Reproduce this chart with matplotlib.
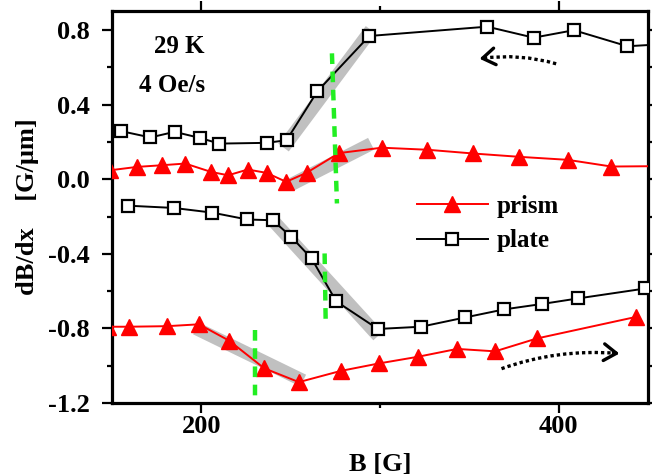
import matplotlib
matplotlib.use('Agg')
import matplotlib.pyplot as plt
import numpy as np
from matplotlib.ticker import MultipleLocator, FormatStrFormatter
from matplotlib.patches import FancyArrowPatch

plt.rcParams['font.family'] = ['Liberation Serif', 'DejaVu Serif']
plt.rcParams['font.weight'] = 'bold'
plt.rcParams['axes.unicode_minus'] = False

# decreasing field sweep (upper pair)
plate_up_B = [155, 171.5, 185, 199, 210, 236.5, 247.7, 265, 294, 360, 386, 408.5, 438.5, 460]
plate_up_v = [0.258, 0.224, 0.254, 0.222, 0.191, 0.195, 0.209, 0.472, 0.768, 0.818, 0.759, 0.799, 0.713, 0.725]
prism_up_B = [149, 164, 178, 191, 205.5, 215, 226, 236.5, 247.5, 259, 277, 301, 326.5, 352, 378, 405, 429.5, 455]
prism_up_v = [0.048, 0.066, 0.075, 0.084, 0.039, 0.021, 0.052, 0.034, -0.014, 0.035, 0.14, 0.169,
              0.158, 0.138, 0.12, 0.104, 0.068, 0.07]

# increasing field sweep (lower pair)
plate_dn_B = [159.2, 184.5, 206, 225.7, 240, 250.3, 261.7, 275.5, 298.8, 323, 347.8, 369.5, 390.7, 411, 448.5]
plate_dn_v = [-0.142, -0.154, -0.179, -0.216, -0.220, -0.309, -0.425, -0.655, -0.803, -0.791, -0.741,
              -0.698, -0.669, -0.639, -0.586]
prism_dn_B = [148, 159.3, 181, 198.7, 215.6, 235.2, 254.6, 278, 299.3, 321.3, 343.2, 364.4, 387.8, 443.5]
prism_dn_v = [-0.791, -0.791, -0.788, -0.778, -0.866, -1.014, -1.088, -1.028, -0.988, -0.952, -0.91,
              -0.923, -0.854, -0.738]

# grey slope guides (start/end)
bands = [([246, 295], [0.17, 0.80]),
         ([250, 295], [-0.03, 0.19]),
         ([239, 299], [-0.21, -0.84]),
         ([197, 257], [-0.80, -1.08])]

# green dashed markers of the transition field
greens = [([273.1, 275.9], [0.675, -0.13]),
          ([269.0, 269.6], [-0.398, -0.765]),
          ([229.9, 229.9], [-0.808, -1.175])]

# sweep direction arrows (tail, head, curvature)
arrows = [((398.6, 0.619), (355.7, 0.646), 0.11),
          ((368.0, -1.016), (434.0, -0.935), -0.11)]

fig = plt.figure(figsize=(6.52, 4.76), dpi=100)
ax = fig.add_axes([112 / 652, 1 - 403 / 476, 536 / 652, 392 / 476])
ax.set_xlim(150, 450)
ax.set_ylim(-1.2, 0.902)

for bx, by in bands:
    ax.plot(bx, by, color='#c0c0c0', lw=9.5, solid_capstyle='butt', zorder=1)

ax.plot(plate_up_B, plate_up_v, color='black', lw=1.4, marker='s', ms=8, mfc='white',
        mec='black', mew=1.6, zorder=3)
ax.plot(prism_up_B, prism_up_v, color='red', lw=1.4, marker='^', ms=11, mfc='red',
        mec='red', zorder=3)
ax.plot(prism_dn_B, prism_dn_v, color='red', lw=1.4, marker='^', ms=11, mfc='red',
        mec='red', zorder=3, label='prism')
ax.plot(plate_dn_B, plate_dn_v, color='black', lw=1.4, marker='s', ms=8, mfc='white',
        mec='black', mew=1.6, zorder=3, label='plate')

for gx, gy in greens:
    ax.plot(gx, gy, color='#22ee22', lw=3.2, dashes=(2.4, 1.7), zorder=4)

# dotted body + solid head for each arrow
for p0, p1, rad in arrows:
    body = FancyArrowPatch(p0, p1, arrowstyle='-', connectionstyle='arc3,rad=%g' % rad,
                           lw=2.4, linestyle=(0, (1.0, 0.9)), capstyle='butt',
                           color='black', zorder=5, shrinkA=0, shrinkB=2)
    ax.add_patch(body)
    a = ax.transData.transform(p0)
    b = ax.transData.transform(p1)
    m = (a + b) / 2
    d = b - a
    c = m + rad * np.array([d[1], -d[0]])
    t = (b - c) / np.hypot(*(b - c))
    back = ax.transData.inverted().transform(b - 6 * t)
    head = FancyArrowPatch(tuple(back), p1, arrowstyle='->,head_length=0.45,head_width=0.3',
                           lw=2.4, color='black', zorder=5, mutation_scale=20,
                           shrinkA=0, shrinkB=0)
    ax.add_patch(head)

ax.text(202, 0.709, '29 K', fontsize=18, fontweight='bold', ha='right', va='center')
ax.text(202, 0.50, '4 Oe/s', fontsize=18, fontweight='bold', ha='right', va='center')

ax.xaxis.set_major_locator(MultipleLocator(200))
ax.xaxis.set_minor_locator(MultipleLocator(100))
ax.yaxis.set_major_locator(MultipleLocator(0.4))
ax.yaxis.set_minor_locator(MultipleLocator(0.2))
ax.yaxis.set_major_formatter(FormatStrFormatter('%.1f'))

for s in ax.spines.values():
    s.set_linewidth(2.3)
ax.tick_params(which='both', direction='out', width=1.6, top=True, right=True)
ax.tick_params(which='major', length=7)
ax.tick_params(which='minor', length=3.5)
ax.tick_params(axis='x', which='major', labelsize=19, pad=1.5)
ax.tick_params(axis='y', which='major', labelsize=19, pad=9)
for lab in ax.get_xticklabels() + ax.get_yticklabels():
    lab.set_fontweight('bold')

ax.set_xlabel('B [G]', fontsize=19, fontweight='bold')
ax.xaxis.set_label_coords(0.5, -0.1276)
ax.set_ylabel('dB/dx    [G/\u03bcm]', fontsize=19, fontweight='bold')
ax.yaxis.set_label_coords(-0.136, 0.5)

ax.legend(loc='center left', bbox_to_anchor=(0.5685, 0.4574), frameon=False,
          borderpad=0, borderaxespad=0, handlelength=2.86, handletextpad=0.34,
          labelspacing=0.45, numpoints=1, prop={'weight': 'bold', 'size': 18})

fig.savefig('out.png', dpi=100)
